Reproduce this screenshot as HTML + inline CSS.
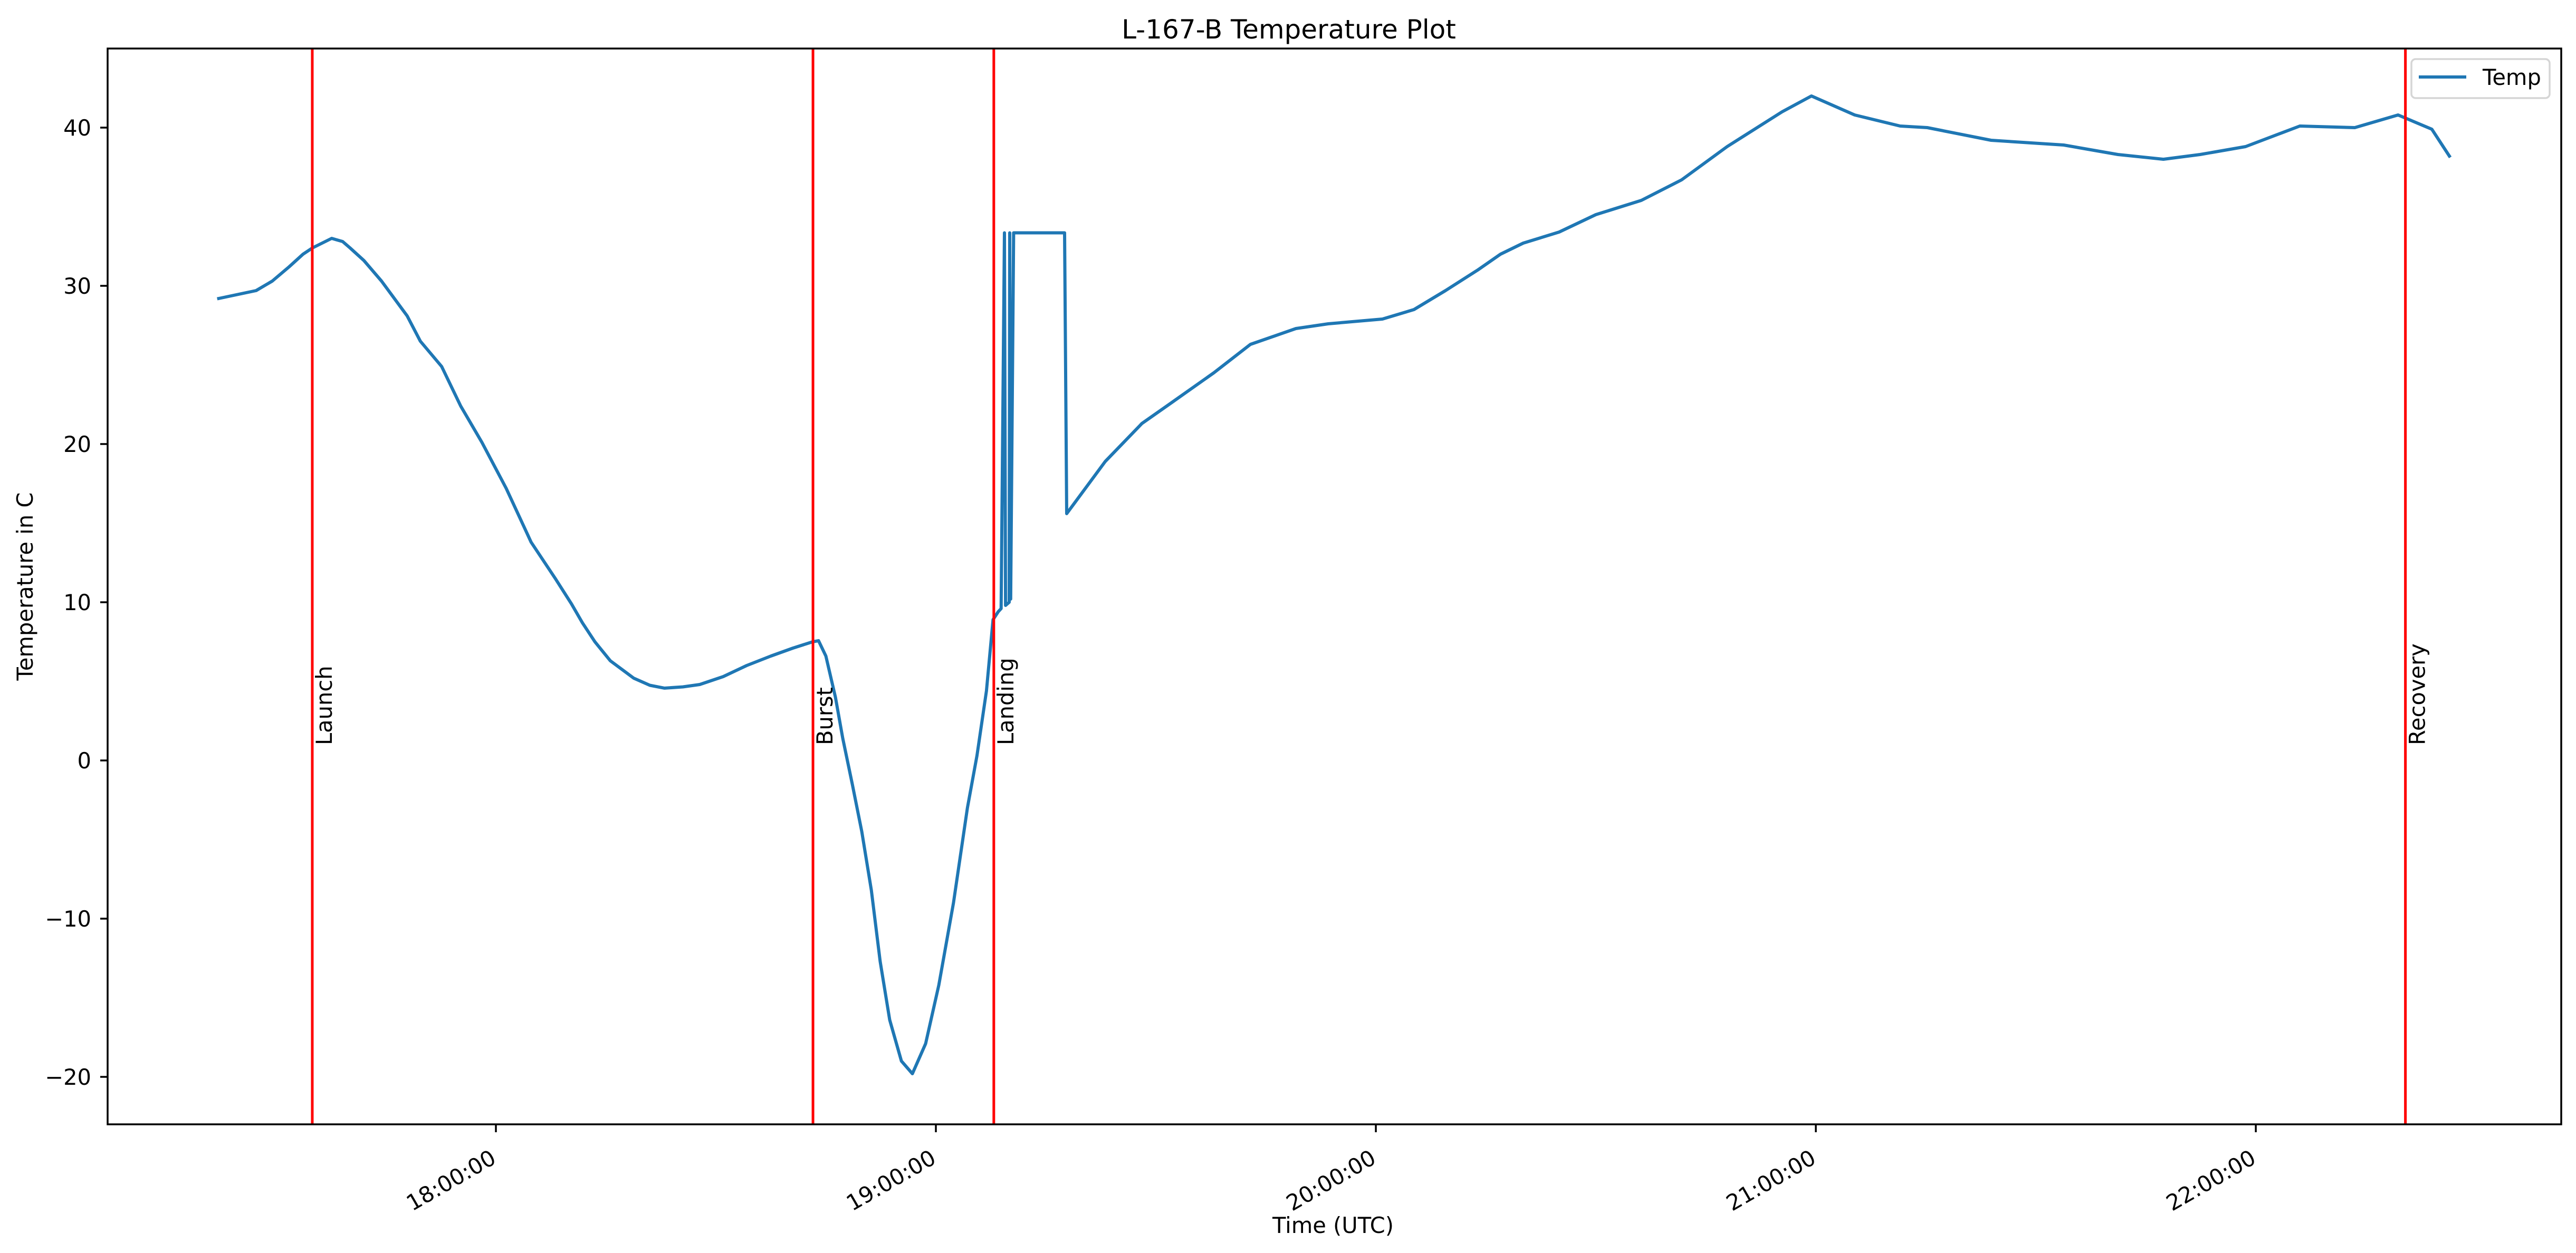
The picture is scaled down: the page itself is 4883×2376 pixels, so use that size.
<!DOCTYPE html>
<html><head><meta charset="utf-8"><style>
html,body{margin:0;padding:0;background:#fff;}
svg{display:block;font-family:"DejaVu Sans","Liberation Sans",sans-serif;}
</style></head>
<body>
<svg id="chart" xmlns="http://www.w3.org/2000/svg" width="4883" height="2376" viewBox="0 0 4883 2376">
<rect width="4883" height="2376" fill="#fff"/>
<text x="2443" y="73" text-anchor="middle" font-size="50">L-167-B Temperature Plot</text>
<g id="plot"></g>
<rect x="204" y="92" width="4651" height="2040" fill="none" stroke="#000" stroke-width="3.5"/>
<text x="2527" y="2338" text-anchor="middle" font-size="41.6">Time (UTC)</text>
<text transform="translate(62,1112) rotate(-90)" text-anchor="middle" font-size="41.6">Temperature in C</text>
<g>
<rect x="4571" y="112" width="262" height="74" rx="8" fill="#fff" fill-opacity="0.8" stroke="#d5d5d5" stroke-width="3.5"/>
<line x1="4585" y1="146" x2="4675" y2="146" stroke="#1f77b4" stroke-width="6"/>
<text x="4706" y="161" font-size="41.6">Temp</text>
</g>
</svg>
<script>
const minutes = [22.2,27.3,29.5,31.8,33.7,35.0,37.6,39.1,40.1,42,44.4,47.9,49.7,52.6,55.2,58.1,61.4,64.3,64.8,68.1,70.3,71.8,73.5,75.6,78.8,81,83,85.5,87.8,91,94.2,97.5,100.5,103.2,104.0,105.0,106.3,107.3,108.6,109.9,111.2,112.4,113.7,115.3,116.8,118.6,120.4,122.4,124.3,125.6,126.9,127.8,128.5,128.9,129.35,129.5,130.0,130.07,130.2,130.6,137.55,137.84,143.1,148.1,152.4,157.9,162.9,169.1,173.5,180.9,185.2,189.5,193.9,197,200.1,205,210,216.2,221.7,227.9,235.4,239.4,245.3,251.5,255.2,263.9,273.8,281.2,287.4,292.4,298.6,306,313.5,319.4,324,326.4];
const temps = [29.2,29.7,30.3,31.2,32.0,32.4,33.0,32.8,32.4,31.6,30.3,28.1,26.5,24.9,22.4,20.1,17.2,14.3,13.8,11.5,9.9,8.7,7.5,6.3,5.2,4.75,4.57,4.65,4.8,5.3,6.0,6.6,7.1,7.5,7.57,6.6,4.0,1.4,-1.5,-4.5,-8.2,-12.7,-16.4,-19.0,-19.8,-17.9,-14.2,-9.0,-3.0,0.3,4.4,8.9,9.4,9.6,33.35,9.8,10.0,33.35,10.2,33.35,33.35,15.6,18.9,21.3,22.7,24.5,26.3,27.3,27.6,27.9,28.5,29.7,31.0,32.0,32.7,33.4,34.5,35.4,36.7,38.8,41.0,42.0,40.8,40.1,40.0,39.2,38.9,38.3,38.0,38.3,38.8,40.1,40.0,40.8,39.9,38.2];
const eventNames = ["Launch","Burst","Landing","Recovery"];
const eventMinutes = [34.96,103.24,127.9,320.4];
const xTickMinutes = [60,120,180,240,300];
const xTickLabels = ["18:00:00","19:00:00","20:00:00","21:00:00","22:00:00"];
const yTicks = [-20,-10,0,10,20,30,40];
const yTickLabels = ["\u221220","\u221210","0","10","20","30","40"];

const AX = {left:204,right:4855,top:92,bottom:2132};
const X_MIN = 7.05, X_MAX = 341.65, Y_MIN = -23.0, Y_MAX = 45.0;
function xScale(t){return AX.left + (t - X_MIN) / (X_MAX - X_MIN) * (AX.right - AX.left);}
function yScale(v){return AX.bottom - (v - Y_MIN) / (Y_MAX - Y_MIN) * (AX.bottom - AX.top);}

const NS = "http://www.w3.org/2000/svg";
const g = document.getElementById("plot");
function mk(tag, attrs, parent){const e=document.createElementNS(NS,tag);for(const k in attrs)e.setAttribute(k,attrs[k]);(parent||g).appendChild(e);return e;}

// y ticks
yTicks.forEach((v,i)=>{
  const y=yScale(v);
  const t=mk("line",{x1:AX.left-14,x2:AX.left,y1:y,y2:y,stroke:"#000","stroke-width":3.5});
  
  
  const l=mk("text",{x:AX.left-31,y:y+15,"text-anchor":"end","font-size":41.6});
  
  
  l.textContent=yTickLabels[i];
});
// x ticks
xTickMinutes.forEach((m,i)=>{
  const x=xScale(m);
  const t=mk("line",{x1:x,x2:x,y1:AX.bottom,y2:AX.bottom+15,stroke:"#000","stroke-width":3.5});
  
  
  const l=mk("text",{transform:"translate("+(x+3)+",2204) rotate(-30)","text-anchor":"end","font-size":41.6});
  
  
  l.textContent=xTickLabels[i];
});
// series
let d="";
minutes.forEach((m,i)=>{d+=(i?"L":"M")+xScale(m).toFixed(1)+","+yScale(temps[i]).toFixed(1);});
const p=mk("path",{d:d,fill:"none",stroke:"#1f77b4","stroke-width":6,"stroke-linejoin":"round","stroke-linecap":"square"});


// events
eventMinutes.forEach((m,i)=>{
  const x=xScale(m);
  const l=mk("line",{x1:x,x2:x,y1:AX.top,y2:AX.bottom,stroke:"#ff0000","stroke-width":5});
  
  
  const t=mk("text",{transform:"translate("+(x+37)+",1413) rotate(-90)","font-size":41.6});
  
  
  t.textContent=eventNames[i];
});
</script>
</body></html>
